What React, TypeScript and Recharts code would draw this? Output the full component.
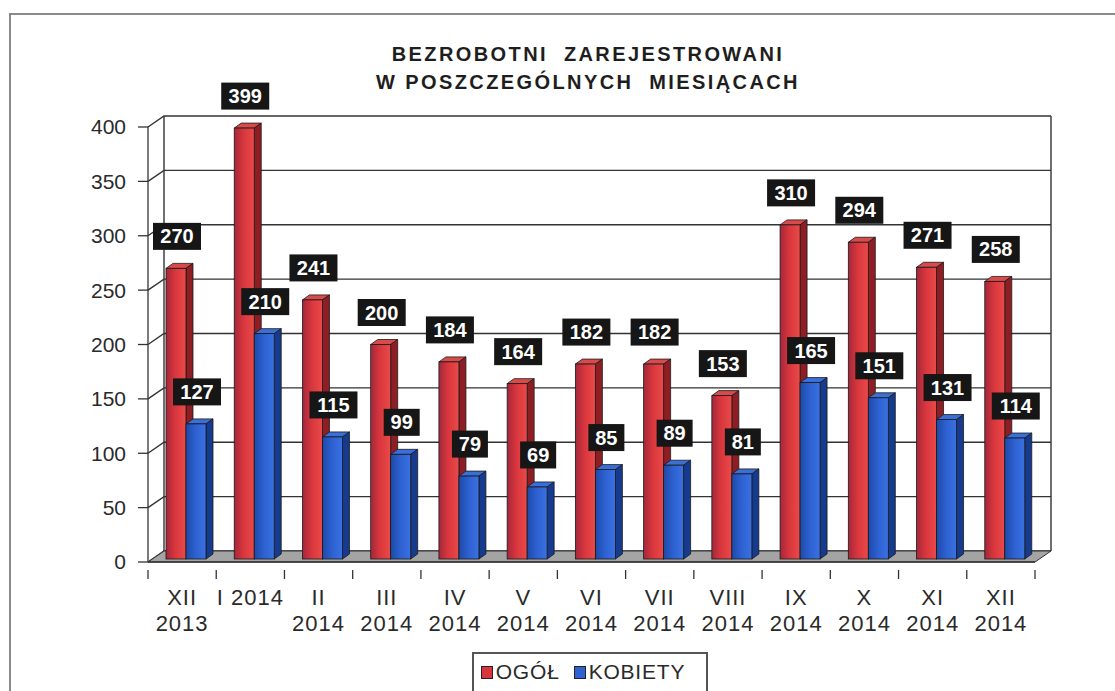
import React from "react";
import { BarChart, Bar, XAxis, YAxis, CartesianGrid, Legend, LabelList, ReferenceArea } from "recharts";

// miesiące (etykiety osi X, "\n" = druga linia)
const miesiace = [
  "XII\n2013", "I 2014", "II\n2014", "III\n2014", "IV\n2014", "V\n2014", "VI\n2014",
  "VII\n2014", "VIII\n2014", "IX\n2014", "X\n2014", "XI\n2014", "XII\n2014",
];
const ogol = [270, 399, 241, 200, 184, 164, 182, 182, 153, 310, 294, 271, 258];
const kobiety = [127, 210, 115, 99, 79, 69, 85, 89, 81, 165, 151, 131, 114];
const osY = [0, 50, 100, 150, 200, 250, 300, 350, 400];
const serie = ["OGÓŁ", "KOBIETY"];

const dane = miesiace.map((m, i) => ({ miesiac: m, ogol: ogol[i], kobiety: kobiety[i] }));

const W = 1115;
const H = 691;
const MARGIN = { top: 127, right: 80, left: 88, bottom: 69 };
const Y_AXIS_W = 60;
const X_AXIS_H = 60;
const BAND = (W - MARGIN.left - Y_AXIS_W - MARGIN.right) / miesiace.length;
const FONT = "'Liberation Sans', Arial, sans-serif";

// głębokość ścian 3D
const DX = 16;
const DY = 11;
// przesunięcie i głębokość słupków
const BX = 4;
const BDX = 7;
const BDY = 5;

const slupek = (grad: string, bok: string, gora: string) => (props: any) => {
  const { x, y, width, height } = props;
  if (height == null || width == null) return null;
  const x0 = x + BX;
  const y0 = y;
  const b = y + height - 3;
  const w = width;
  return (
    <g>
      <path
        d={`M${x0},${y0} L${x0 + BDX},${y0 - BDY} L${x0 + w + BDX},${y0 - BDY} L${x0 + w},${y0} Z`}
        fill={gora}
        stroke="#1a1a1a"
        strokeWidth={0.8}
      />
      <path
        d={`M${x0 + w},${y0} L${x0 + w + BDX},${y0 - BDY} L${x0 + w + BDX},${b - BDY} L${x0 + w},${b} Z`}
        fill={bok}
        stroke="#1a1a1a"
        strokeWidth={0.8}
      />
      <rect x={x0} y={y0} width={w} height={b - y0} fill={`url(#${grad})`} stroke="#1a1a1a" strokeWidth={0.8} />
    </g>
  );
};

const Etykieta = (props: any) => {
  const { x, y, width, value } = props;
  const cx = x + width / 2 + BX + 1;
  const cy = y - 32;
  const w = String(value).length * 12 + 12;
  return (
    <g>
      <rect x={cx - w / 2} y={cy - 13.5} width={w} height={27} fill="#161616" />
      <text
        x={cx}
        y={cy + 7}
        textAnchor="middle"
        fill="#fff"
        fontWeight={700}
        fontSize={20}
        fontFamily={FONT}
      >
        {value}
      </text>
    </g>
  );
};

const liniaSiatki = (p: any) => {
  const { x1, x2, y1, key } = p;
  return (
    <path
      key={key}
      d={`M${x1},${y1} L${x1 + DX},${y1 - DY} L${x2 + DX},${y1 - DY}`}
      stroke="#333"
      strokeWidth={1.4}
      fill="none"
    />
  );
};

const Sciany = (props: any) => {
  const { x, y, width, height } = props;
  const b = y + height;
  return (
    <g>
      <path
        d={`M${x},${b} L${x + DX},${b - DY} L${x + width + DX},${b - DY} L${x + width},${b} Z`}
        fill="#a4a4a4"
        stroke="#333"
        strokeWidth={1}
      />
      <path d={`M${x + DX},${y - DY} L${x + DX},${b - DY}`} stroke="#333" strokeWidth={1.4} />
      <path d={`M${x + width + DX},${y - DY} L${x + width + DX},${b - DY}`} stroke="#333" strokeWidth={1.4} />
    </g>
  );
};

const MiesiacTick = (props: any) => {
  const { x, y, payload, index } = props;
  const linie = String(payload.value).split("\n");
  const ostatni = index === miesiace.length - 1;
  return (
    <g>
      <line x1={x - BAND / 2} y1={y} x2={x - BAND / 2} y2={y + 9} stroke="#333" strokeWidth={1.3} />
      {ostatni && <line x1={x + BAND / 2} y1={y} x2={x + BAND / 2} y2={y + 9} stroke="#333" strokeWidth={1.3} />}
      {linie.map((l, i) => (
        <text
          key={i}
          x={x}
          y={y + 35 + i * 26}
          textAnchor="middle"
          fill="#2a2a2a"
          fontSize={22}
          fontFamily={FONT}
          letterSpacing={1}
        >
          {l}
        </text>
      ))}
    </g>
  );
};

const Legenda = (props: any) => {
  const payload = [...(props.payload || [])].sort(
    (a: any, b: any) => serie.indexOf(a.value) - serie.indexOf(b.value)
  );
  return (
    <div
      style={{
        border: "2px solid #555",
        height: 60,
        boxSizing: "border-box",
        display: "flex",
        justifyContent: "center",
        alignItems: "flex-start",
        paddingTop: 6,
        fontFamily: FONT,
        fontSize: 21,
        letterSpacing: 0.8,
        lineHeight: "24px",
        color: "#2a2a2a",
      }}
    >
      {payload.map((p: any) => (
        <span key={p.value} style={{ display: "inline-flex", alignItems: "center", marginRight: 14 }}>
          <span
            style={{
              display: "inline-block",
              width: 10,
              height: 11,
              background: p.color,
              border: "1px solid #222",
              marginRight: 3,
            }}
          />
          {p.value}
        </span>
      ))}
    </div>
  );
};

export default function App() {
  return (
    <div style={{ position: "absolute", left: 0, top: 0, width: W, height: H, overflow: "hidden", background: "#fff" }}>
      <div
        style={{
          position: "absolute",
          left: 9,
          top: 13,
          width: 1300,
          height: 900,
          border: "2px solid #8a8a8a",
        }}
      />
      <div
        style={{
          position: "absolute",
          left: 288,
          top: 40,
          width: 600,
          textAlign: "center",
          fontFamily: FONT,
          fontWeight: 700,
          fontSize: 20,
          lineHeight: "28px",
          letterSpacing: 2.4,
          color: "#1e1e1e",
          whiteSpace: "pre",
        }}
      >
        {"BEZROBOTNI  ZAREJESTROWANI\nW POSZCZEGÓLNYCH  MIESIĄCACH"}
      </div>
      <div style={{ position: "absolute", left: 0, top: 0 }}>
        <BarChart width={W} height={H} data={dane} margin={MARGIN} barSize={20} barGap={0}>
          <defs>
            <linearGradient id="gRed" x1="0" y1="0" x2="1" y2="0">
              <stop offset="0" stopColor="#a3273a" />
              <stop offset="0.45" stopColor="#d8363d" />
              <stop offset="1" stopColor="#ea4a48" />
            </linearGradient>
            <linearGradient id="gBlue" x1="0" y1="0" x2="1" y2="0">
              <stop offset="0" stopColor="#1d4aa8" />
              <stop offset="0.5" stopColor="#2e62d2" />
              <stop offset="1" stopColor="#3a70e0" />
            </linearGradient>
          </defs>
          <CartesianGrid horizontal={liniaSiatki} vertical={false} />
          <XAxis
            dataKey="miesiac"
            height={X_AXIS_H}
            interval={0}
            tickLine={false}
            axisLine={{ stroke: "#333", strokeWidth: 1.3 }}
            tick={<MiesiacTick />}
          />
          <YAxis
            width={Y_AXIS_W}
            domain={[0, 400]}
            ticks={osY}
            interval={0}
            tickSize={10}
            tickMargin={12}
            axisLine={{ stroke: "#333", strokeWidth: 1.3 }}
            tickLine={{ stroke: "#333", strokeWidth: 1.3 }}
            tick={{ fontSize: 21, fill: "#2a2a2a", fontFamily: FONT }}
          />
          <ReferenceArea y1={0} y2={400} shape={<Sciany />} ifOverflow="visible" />
          <Legend
            verticalAlign="middle"
            layout="horizontal"
            wrapperStyle={{ top: 652, left: 472, width: 236, height: 60 }}
            content={<Legenda />}
          />
          <Bar dataKey="ogol" name="OGÓŁ" fill="#d8363d" shape={slupek("gRed", "#8e1e24", "#d94a4a")} isAnimationActive={false}>
            <LabelList dataKey="ogol" content={<Etykieta />} />
          </Bar>
          <Bar dataKey="kobiety" name="KOBIETY" fill="#2e62d2" shape={slupek("gBlue", "#163a8e", "#3b6fd8")} isAnimationActive={false}>
            <LabelList dataKey="kobiety" content={<Etykieta />} />
          </Bar>
        </BarChart>
      </div>
    </div>
  );
}
